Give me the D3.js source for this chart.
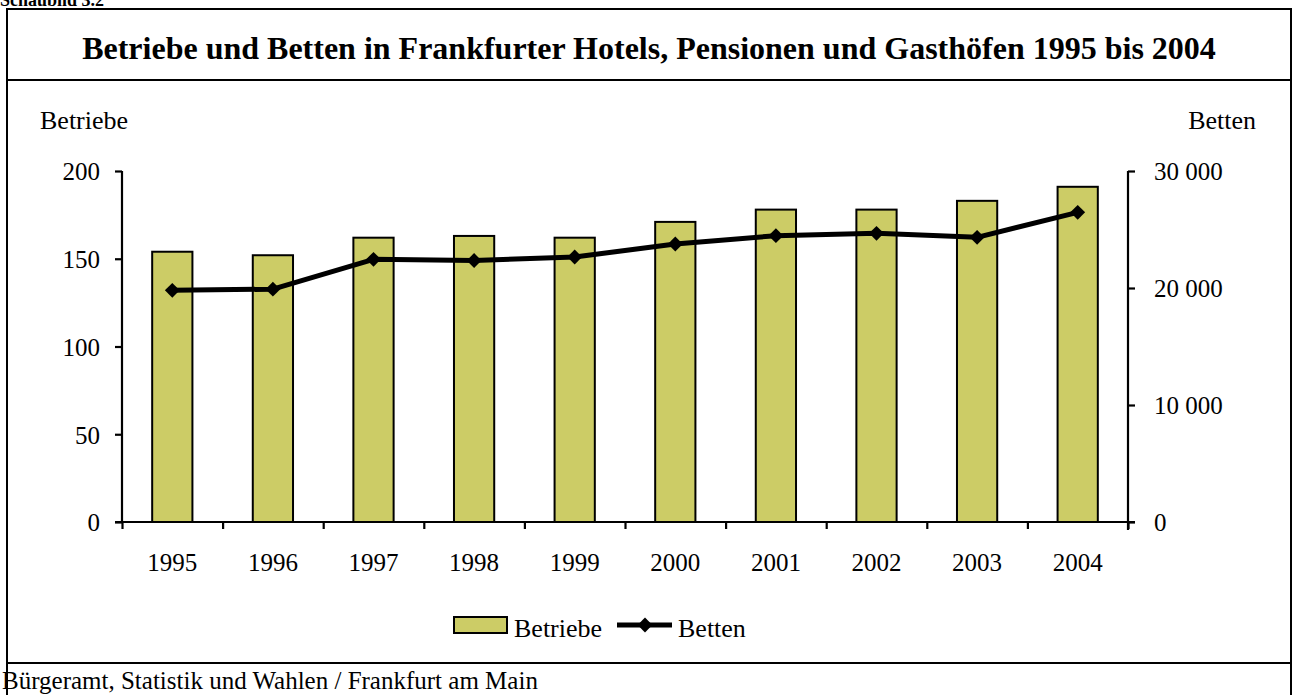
<!DOCTYPE html>
<html><head><meta charset="utf-8">
<script src="https://cdn.jsdelivr.net/npm/d3@7"></script>
<style>
html,body{margin:0;padding:0;background:#fff;}
svg{display:block;font-family:"Liberation Serif","Times New Roman",serif;}
</style></head>
<body>
<script>
const years = ["1995","1996","1997","1998","1999","2000","2001","2002","2003","2004"];
const betriebe = [154,152,162,163,162,171,178,178,183,191];
const betten = [19800,19900,22450,22350,22650,23760,24470,24670,24330,26470];
const leftTicks = [0,50,100,150,200];
const rightTicks = [0,10000,20000,30000];
const title = "Betriebe und Betten in Frankfurter Hotels, Pensionen und Gasthöfen 1995 bis 2004";

const W=1293,H=695;
const svg=d3.select("body").append("svg").attr("width",W).attr("height",H);

// frames
svg.append("text").attr("x",0).attr("y",6).attr("font-size",18).attr("font-weight","bold").text("Schaubild 3.2");
const fr=svg.append("g").attr("fill","none").attr("stroke","#000").attr("stroke-width",2);
fr.append("path").attr("d","M7,695 V9 H1291 V695");
fr.append("line").attr("x1",7).attr("x2",1291).attr("y1",80).attr("y2",80);
fr.append("line").attr("x1",7).attr("x2",1291).attr("y1",663).attr("y2",663);

svg.append("text").attr("x",649).attr("y",59).attr("text-anchor","middle")
  .attr("font-size",32).attr("font-weight","bold").text(title);

const x=d3.scaleBand().domain(years).range([122,1128]).paddingInner(0.6).paddingOuter(0.3);
const yL=d3.scaleLinear().domain([0,200]).range([522,171]);
const yR=d3.scaleLinear().domain([0,30000]).range([522,171]);

// bars
svg.append("g").selectAll("rect").data(years).join("rect")
  .attr("x",d=>x(d)).attr("width",x.bandwidth())
  .attr("y",(d,i)=>yL(betriebe[i])).attr("height",(d,i)=>yL(0)-yL(betriebe[i]))
  .attr("fill","#CCCC66").attr("stroke","#000").attr("stroke-width",2);

const fmt=v=>d3.format(",")(v).replace(/,/g," ");
const gl=svg.append("g").attr("transform","translate(122,0)")
  .call(d3.axisLeft(yL).tickValues(leftTicks).tickSize(7).tickPadding(15).tickFormat(d3.format("d")));
const gr=svg.append("g").attr("transform","translate(1128,0)")
  .call(d3.axisRight(yR).tickValues(rightTicks).tickSize(7).tickPadding(19).tickFormat(fmt));
const xb=d3.scaleLinear().domain([0,10]).range([122,1128]);
const gb=svg.append("g").attr("transform","translate(0,522)")
  .call(d3.axisBottom(xb).ticks(10).tickSize(7).tickFormat(""));
svg.append("g").selectAll("text").data(years).join("text")
  .attr("x",d=>x(d)+x.bandwidth()/2).attr("y",571).attr("text-anchor","middle")
  .attr("font-size",25).text(d=>d);
[gl,gr,gb].forEach(g=>{
  g.selectAll(".tick line").attr("stroke","#000").attr("stroke-width",2.2);
  g.selectAll(".tick text").attr("font-size",25).attr("font-family","Liberation Serif").attr("fill","#000").attr("dy","0.35em");
  g.select("path.domain").remove();
});
gl.append("line").attr("x1",0).attr("x2",0).attr("y1",171).attr("y2",522).attr("stroke","#000").attr("stroke-width",2.2);
gr.append("line").attr("x1",0).attr("x2",0).attr("y1",171).attr("y2",530).attr("stroke","#000").attr("stroke-width",2.2);
gb.append("line").attr("x1",115).attr("x2",1135).attr("y1",0).attr("y2",0).attr("stroke","#000").attr("stroke-width",2.2);

// line
const cx=d=>x(d)+x.bandwidth()/2;
svg.append("path").datum(years).attr("fill","none").attr("stroke","#000").attr("stroke-width",5)
  .attr("stroke-linejoin","round")
  .attr("d",d3.line().x(d=>cx(d)).y((d,i)=>yR(betten[i])));
svg.append("g").selectAll("path").data(years).join("path")
  .attr("transform",(d,i)=>`translate(${cx(d)},${yR(betten[i])}) rotate(45)`)
  .attr("d",d3.symbol().type(d3.symbolSquare).size(110)).attr("fill","#000");

// axis titles
svg.append("text").attr("x",40).attr("y",129).attr("font-size",26).text("Betriebe");
svg.append("text").attr("x",1256).attr("y",129).attr("text-anchor","end").attr("font-size",26).text("Betten");

// legend
svg.append("rect").attr("x",454).attr("y",617).attr("width",53).attr("height",16)
  .attr("fill","#CCCC66").attr("stroke","#000").attr("stroke-width",2);
svg.append("text").attr("x",514).attr("y",637).attr("font-size",26).text("Betriebe");
svg.append("line").attr("x1",617).attr("x2",672).attr("y1",625).attr("y2",625).attr("stroke","#000").attr("stroke-width",5);
svg.append("path").attr("transform","translate(645,625) rotate(45)").attr("d",d3.symbol().type(d3.symbolSquare).size(110)).attr("fill","#000");
svg.append("text").attr("x",678).attr("y",637).attr("font-size",26).text("Betten");

// footer
svg.append("text").attr("x",2).attr("y",689).attr("font-size",25).text("Bürgeramt, Statistik und Wahlen / Frankfurt am Main");
</script>
</body></html>
